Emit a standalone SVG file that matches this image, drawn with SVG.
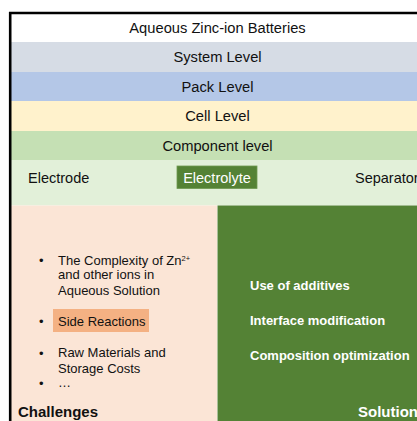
<svg xmlns="http://www.w3.org/2000/svg" width="417" height="421" viewBox="0 0 417 421">
<style>
text{font-family:"Liberation Sans",Arial,sans-serif;fill:#111}
.lv{font-size:14.7px;text-anchor:middle}
.cp{font-size:14.5px}
.b{font-size:13px}
.w{font-size:13px;font-weight:bold;fill:#fff}
.h{font-size:15px;font-weight:bold}
</style>
<rect width="417" height="421" fill="#fff"/>
<g id="title"><rect x="11" y="14" width="406" height="28" fill="#fff"/><text class="lv" x="217.5" y="33">Aqueous Zinc-ion Batteries</text></g>
<g id="system"><rect x="11" y="42" width="406" height="30" fill="#d6dce5"/><text class="lv" x="217.5" y="62">System Level</text></g>
<g id="pack"><rect x="11" y="72" width="406" height="29" fill="#b4c7e7"/><text class="lv" x="217.5" y="92">Pack Level</text></g>
<g id="cell"><rect x="11" y="101" width="406" height="30" fill="#fff2cc"/><text class="lv" x="217.5" y="121">Cell Level</text></g>
<g id="component"><rect x="11" y="131" width="406" height="29" fill="#c5e0b4"/><text class="lv" x="217.5" y="151">Component level</text></g>
<g id="components"><rect x="11" y="160" width="406" height="45.5" fill="#e2f0d9"/>
<text class="cp" x="28" y="183">Electrode</text>
<text class="cp" x="355" y="183">Separator</text></g>
<g id="electrolyte"><rect x="177" y="166" width="80" height="22.5" fill="#548235" stroke="#6f9a52" stroke-width="0.8"/><text class="cp" x="217" y="183" text-anchor="middle" style="fill:#fff">Electrolyte</text></g>
<g id="challenges"><rect x="11" y="205.5" width="206" height="216" fill="#fbe5d6"/>
<text class="b" x="39" y="265">•</text><text class="b" x="58" y="264.5">The Complexity of Zn<tspan font-size="7.5" dy="-4">2+</tspan></text>
<text class="b" x="58" y="279">and other ions in</text>
<text class="b" x="58" y="294.5">Aqueous Solution</text>
<rect x="53" y="309" width="96" height="23" fill="#f4b183"/>
<text class="b" x="39" y="326">•</text><text class="b" x="58" y="325.5">Side Reactions</text>
<text class="b" x="39" y="357.5">•</text><text class="b" x="58" y="357">Raw Materials and</text>
<text class="b" x="58" y="372.5">Storage Costs</text>
<text class="b" x="39" y="388">•</text><text class="b" x="58" y="387">…</text>
<text class="h" x="18" y="416.5">Challenges</text></g>
<g id="solution"><rect x="217.5" y="205.5" width="200" height="216" fill="#548235"/>
<text class="w" x="250" y="290">Use of additives</text>
<text class="w" x="250" y="325">Interface modification</text>
<text class="w" x="250" y="359.5">Composition optimization</text>
<text class="h" x="358" y="416.5" style="fill:#fff">Solution</text></g>
<g id="connectors"><path d="M10.2,421 V13 H417" fill="none" stroke="#000" stroke-width="2.6"/></g>
</svg>
